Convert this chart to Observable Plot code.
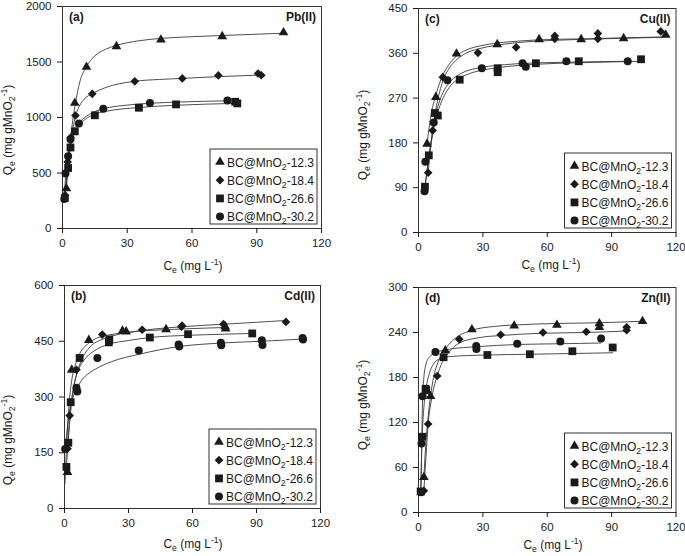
<!DOCTYPE html>
<html><head><meta charset="utf-8">
<script src="https://cdn.jsdelivr.net/npm/d3@7"></script>
<script src="https://cdn.jsdelivr.net/npm/@observablehq/plot@0.6"></script>
<style>
body{margin:0;background:#fff}
#fig{position:relative;width:685px;height:556px;font-family:"Liberation Sans",Arial,sans-serif;overflow:hidden}
.panel{position:absolute}
.panel svg{overflow:visible;display:block}
</style>
</head><body><div id="fig"></div>
<script>
// ---------- tick labels & text ----------
const xTicks = [0, 30, 60, 90, 120];
const pbTicks = [0, 500, 1000, 1500, 2000];
const cdTicks = [0, 150, 300, 450, 600];
const cuTicks = [0, 90, 180, 270, 360, 450];
const znTicks = [0, 60, 120, 180, 240, 300];
const seriesLabels = ["12.3", "18.4", "26.6", "30.2"];
const panelTags = ["(a)", "(b)", "(c)", "(d)"];
const metals = ["Pb(II)", "Cd(II)", "Cu(II)", "Zn(II)"];

// ---------- (a) Pb(II) ----------
const pb12X = [1.8, 5.7, 11.1, 25.0, 45.6, 74.0, 102.4];
const pb12Y = [360, 1130, 1455, 1640, 1700, 1731, 1766];
const pb18X = [1.2, 2.4, 3.8, 6.0, 13.8, 33.5, 55.5, 72.2, 90.6, 92.1];
const pb18Y = [300, 600, 820, 1018, 1213, 1326, 1352, 1379, 1396, 1381];
const pb26X = [1.1, 2.6, 3.7, 5.7, 15.0, 35.4, 52.6, 80.0, 81.0];
const pb26Y = [275, 545, 730, 875, 1020, 1088, 1118, 1142, 1127];
const pb30X = [0.8, 1.4, 2.6, 3.7, 7.6, 18.9, 40.5, 76.4];
const pb30Y = [265, 495, 650, 805, 945, 1078, 1130, 1154];
const pb12FitX = [1.8, 3, 4, 5, 6, 8, 11, 15, 20, 25, 35, 45, 60, 80, 103];
const pb12FitY = [365, 640, 850, 1010, 1130, 1320, 1455, 1555, 1615, 1650, 1690, 1712, 1728, 1743, 1760];
const pb18FitX = [1.2, 2, 3, 4, 5, 6, 8, 10, 13.8, 20, 33, 45, 55, 72, 92];
const pb18FitY = [300, 500, 680, 810, 920, 1010, 1110, 1165, 1215, 1270, 1325, 1343, 1352, 1368, 1382];
const pb26FitX = [1.1, 2, 2.6, 3.7, 5, 5.7, 8, 11, 15, 20, 35.4, 52.4, 66, 81.3];
const pb26FitY = [280, 450, 560, 720, 830, 870, 940, 990, 1030, 1055, 1090, 1110, 1120, 1127];
const pb30FitX = [0.8, 1.4, 2, 2.6, 3.7, 5, 7.6, 10, 14, 18.9, 30, 40.5, 55, 76.2];
const pb30FitY = [270, 460, 580, 665, 790, 880, 950, 995, 1045, 1078, 1112, 1128, 1140, 1150];

// ---------- (b) Cd(II) ----------
const cd12X = [1.4, 3.4, 11.4, 27.2, 28.9, 47.6, 75.3, 75.5];
const cd12Y = [98, 373, 453, 478, 476, 482, 490, 484];
const cd18X = [1.4, 2.4, 5.6, 17.7, 36.4, 54.8, 55.1, 74.5, 103.8];
const cd18Y = [161, 250, 373, 468, 481, 489, 492, 496, 502];
const cd26X = [0.9, 1.8, 2.9, 7.1, 20.8, 21.0, 40.0, 57.9, 88.0];
const cd26Y = [112, 177, 286, 405, 447, 455, 460, 469, 471];
const cd30X = [0.3, 5.6, 6.0, 15.4, 34.8, 53.5, 53.8, 73.3, 73.5, 92.5, 92.8, 111.6, 111.8];
const cd30Y = [160, 325, 315, 405, 425, 441, 436, 446, 439, 453, 440, 459, 455];
const cd12FitX = [0.2, 1, 2, 3.4, 5, 7, 11.4, 15, 20, 28, 40, 55, 75.3];
const cd12FitY = [67, 170, 270, 345, 385, 415, 445, 458, 466, 473, 479, 483, 487];
const cd18FitX = [1.4, 2.4, 4, 5.6, 8, 12, 17.7, 25, 36.4, 55, 75, 90, 104];
const cd18FitY = [160, 245, 320, 360, 400, 435, 455, 468, 479, 489, 496, 501, 506];
const cd26FitX = [0.9, 1.8, 2.9, 4.5, 7.1, 10, 15, 20.8, 30, 40, 58, 75, 88];
const cd26FitY = [110, 185, 260, 330, 380, 405, 428, 442, 452, 460, 466, 469, 471];
const cd30FitX = [0.3, 2, 4, 5.7, 8, 11, 15.4, 22, 35, 54, 73, 92.5, 112];
const cd30FitY = [155, 250, 300, 320, 345, 362, 378, 395, 415, 436, 445, 450, 456];

// ---------- (c) Cu(II) ----------
const cu12X = [4.0, 8.1, 17.7, 36.7, 56.2, 75.8, 95.6, 115.2];
const cu12Y = [178, 272, 359, 378, 388, 388, 390, 397];
const cu18X = [4.5, 6.6, 11.3, 27.7, 45.5, 63.5, 63.5, 83.6, 83.6, 112.9];
const cu18Y = [120, 205, 312, 361, 372, 395, 389, 400, 389, 404];
const cu26X = [3.0, 4.8, 7.6, 9.0, 19.2, 36.9, 36.9, 54.7, 74.7, 103.7];
const cu26Y = [92, 155, 240, 235, 307, 322, 330, 340, 344, 348];
const cu30X = [2.8, 3.2, 7.1, 13.5, 29.5, 48.5, 50.0, 68.9, 97.5];
const cu30Y = [83, 142, 221, 306, 330, 340, 333, 344, 344];
const cu12FitX = [4.0, 5, 6, 8, 10, 12, 15, 18, 22, 30, 37, 45, 56, 76, 95, 115];
const cu12FitY = [178, 212, 240, 275, 302, 322, 342, 356, 366, 376, 381, 384, 387, 389, 391, 393];
const cu18FitX = [4.5, 5.5, 6.6, 8, 11, 14, 18, 22, 28, 36, 45, 63, 85, 113];
const cu18FitY = [120, 165, 205, 245, 300, 328, 348, 360, 369, 376, 381, 386, 389, 392];
const cu26FitX = [3, 4, 5, 6.5, 8, 10, 12, 15, 19.2, 25, 37, 55, 75, 104];
const cu26FitY = [90, 125, 155, 195, 226, 255, 275, 295, 310, 321, 331, 338, 341, 344];
const cu30FitX = [2.8, 4, 5, 6.5, 8, 10, 12, 15, 20, 30, 40, 50, 69, 98];
const cu30FitY = [83, 125, 158, 200, 236, 266, 286, 304, 320, 332, 337, 340, 342, 344];

// ---------- (d) Zn(II) ----------
const zn12X = [2.5, 5.6, 12.5, 24.9, 44.6, 64.5, 84.3, 84.3, 104.4];
const zn12Y = [47, 155, 216, 244, 249, 250, 252, 247, 255];
const zn18X = [2.5, 4.5, 8.7, 19.0, 38.3, 58.0, 78.2, 97.0, 97.0];
const zn18Y = [29, 118, 182, 231, 237, 240, 241, 247, 243];
const zn26X = [1.0, 1.7, 3.3, 3.6, 11.7, 32.1, 51.9, 71.7, 90.5];
const zn26Y = [28, 101, 165, 163, 207, 210, 211, 215, 220];
const zn30X = [1.2, 1.4, 1.9, 7.9, 26.9, 27.0, 46.0, 66.1, 85.1];
const zn30Y = [27, 92, 155, 214, 222, 218, 225, 228, 232];
const zn12FitX = [2.5, 3.5, 4.5, 5.6, 7, 9, 12.5, 17, 24.9, 35, 44.6, 64.3, 84.3, 104.4];
const zn12FitY = [47, 95, 128, 155, 180, 200, 218, 232, 243, 248, 250, 252, 253, 255];
const zn18FitX = [2.5, 3.5, 4.5, 6, 8.7, 11, 14, 19, 28, 38.3, 58, 78, 97];
const zn18FitY = [29, 75, 118, 150, 182, 200, 213, 226, 233, 236, 239, 240, 242];
const zn26FitX = [1.0, 1.7, 2.5, 3.5, 5, 7, 10, 15, 32, 52, 72, 90.5];
const zn26FitY = [30, 100, 140, 165, 185, 198, 205, 208, 210, 211, 212, 213];
const zn30FitX = [1.2, 1.5, 1.9, 2.5, 3.5, 5, 7.9, 15, 26.9, 46, 66, 85];
const zn30FitY = [27, 90, 150, 180, 198, 207, 213, 218, 221, 224, 225, 226];

// ---------- drawing ----------
const symbols = ["triangle", "diamond2", "square", "circle"];
const symR = [3.6, 3.9, 4.4, 4.0];
const INK = "#1a1a1a";
const fig = d3.select("#fig");

function rich(text, parts, fs) {
  let cur = 0;
  for (const [t, k] of parts) {
    const off = k === "sub" ? 0.28 * fs : k === "sup" ? -0.42 * fs : 0;
    text.append("tspan").attr("dy", off - cur).attr("font-size", k === "n" ? fs : fs * 0.72).text(t);
    cur = off;
  }
}

function panel(p) {
  const series = p.series.map((s, i) => ({
    pts: s[0].map((x, j) => [x, s[1][j]]),
    fit: s[2].map((x, j) => [x, s[3][j]]),
    i
  }));
  const marks = [Plot.frame({stroke: "#333", strokeWidth: 1})];
  for (const s of series) {
    marks.push(Plot.line(s.fit, {x: d => d[0], y: d => d[1], curve: "monotone-x", stroke: "#3a3a3a", strokeWidth: 0.9}));
  }
  for (const s of series) {
    marks.push(Plot.dot(s.pts, {x: d => d[0], y: d => d[1], symbol: symbols[s.i], r: symR[s.i], fill: INK, stroke: "none"}));
  }
  marks.push(Plot.axisX({ticks: xTicks, tickSize: 5, tickPadding: 5, label: null, tickFormat: d => String(d)}));
  marks.push(Plot.axisY({ticks: p.yTicks, tickSize: 5, tickPadding: 6, label: null, tickFormat: d => String(d)}));
  const svg = Plot.plot({
    width: p.w, height: p.h,
    marginLeft: p.ml, marginRight: p.mr, marginTop: p.mt, marginBottom: p.mb,
    x: {domain: [0, 120]},
    y: {domain: [0, p.yTicks[p.yTicks.length - 1]]},
    style: {fontFamily: "'Liberation Sans', Arial, sans-serif", fontSize: "11.5px", color: INK, background: "transparent"},
    marks
  });
  const div = fig.append("div").attr("class", "panel").style("left", p.left + "px").style("top", p.top + "px");
  div.node().appendChild(svg);
  const g = d3.select(svg).append("g")
    .attr("font-family", "'Liberation Sans', Arial, sans-serif")
    .attr("fill", INK).attr("text-anchor", "start");
  const pr = p.w - p.mr, pb = p.h - p.mb;
  // panel tag and metal
  g.append("text").attr("x", p.ml + 7).attr("y", p.mt + 15).attr("font-size", 12).attr("font-weight", "bold").attr("text-anchor", "start").text(p.tag);
  g.append("text").attr("x", pr - 5).attr("y", p.mt + 15).attr("font-size", 12).attr("font-weight", "bold").attr("text-anchor", "end").text(p.metal);
  // axis titles
  const yl = g.append("text").attr("transform", `translate(${p.ylx},${p.yly}) rotate(-90)`).attr("text-anchor", "middle");
  rich(yl, [["Q", "n"], ["e", "sub"], [" (mg gMnO", "n"], ["2", "sub"], ["-1", "sup"], [")", "n"]], 12);
  const xl = g.append("text").attr("x", p.xlx).attr("y", p.xly).attr("text-anchor", "middle");
  rich(xl, [["C", "n"], ["e", "sub"], [" (mg L", "n"], ["-1", "sup"], [")", "n"]], 12);
  // legend
  const bw = 107, bh = 75, bx = pr - 4 - bw, by = pb - 4 - bh;
  g.append("rect").attr("x", bx).attr("y", by).attr("width", bw).attr("height", bh)
    .attr("fill", "#fff").attr("stroke", "#333").attr("stroke-width", 1);
  const d3syms = [d3.symbolTriangle, d3.symbolDiamond2, d3.symbolSquare, d3.symbolCircle];
  seriesLabels.forEach((lab, i) => {
    const cy = by + 13 + i * 18.2;
    g.append("path").attr("transform", `translate(${bx + 10},${cy})`)
      .attr("d", d3.symbol(d3syms[i], Math.PI * symR[i] * symR[i])()).attr("fill", INK);
    const t = g.append("text").attr("x", bx + 17).attr("y", cy + 4.5).attr("text-anchor", "start");
    rich(t, [["BC@MnO", "n"], ["2", "sub"], ["-" + lab, "n"]], 12);
  });
}

const P = [
  {tag: panelTags[0], metal: metals[0], left: 0, top: 0, w: 340, h: 275, ml: 62, mr: 19, mt: 6, mb: 47, yTicks: pbTicks,
   ylx: 12, yly: 130, xlx: 193, xly: 270,
   series: [[pb12X, pb12Y, pb12FitX, pb12FitY], [pb18X, pb18Y, pb18FitX, pb18FitY], [pb26X, pb26Y, pb26FitX, pb26FitY], [pb30X, pb30Y, pb30FitX, pb30FitY]]},
  {tag: panelTags[2], metal: metals[2], left: 340, top: 0, w: 345, h: 275, ml: 78, mr: 9.5, mt: 8, mb: 43, yTicks: cuTicks,
   ylx: 27, yly: 135, xlx: 211, xly: 269,
   series: [[cu12X, cu12Y, cu12FitX, cu12FitY], [cu18X, cu18Y, cu18FitX, cu18FitY], [cu26X, cu26Y, cu26FitX, cu26FitY], [cu30X, cu30Y, cu30FitX, cu30FitY]]},
  {tag: panelTags[1], metal: metals[1], left: 0, top: 275, w: 340, h: 281, ml: 64, mr: 20, mt: 10, mb: 48, yTicks: cdTicks,
   ylx: 12, yly: 165, xlx: 193, xly: 273,
   series: [[cd12X, cd12Y, cd12FitX, cd12FitY], [cd18X, cd18Y, cd18FitX, cd18FitY], [cd26X, cd26Y, cd26FitX, cd26FitY], [cd30X, cd30Y, cd30FitX, cd30FitY]]},
  {tag: panelTags[3], metal: metals[3], left: 340, top: 275, w: 345, h: 281, ml: 78, mr: 9.5, mt: 12, mb: 44, yTicks: znTicks,
   ylx: 27, yly: 130, xlx: 213, xly: 274,
   series: [[zn12X, zn12Y, zn12FitX, zn12FitY], [zn18X, zn18Y, zn18FitX, zn18FitY], [zn26X, zn26Y, zn26FitX, zn26FitY], [zn30X, zn30Y, zn30FitX, zn30FitY]]}
];
P.forEach(panel);
</script>
</body></html>
